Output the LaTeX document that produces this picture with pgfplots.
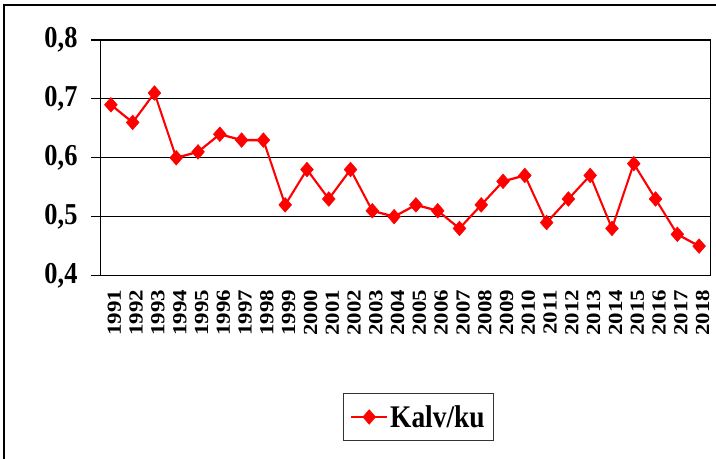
\documentclass[border=0pt]{standalone}
\usepackage{fontspec}
\setmainfont{Liberation Serif}
\usepackage{graphicx}
\usepackage{pgfplots}
\pgfplotsset{compat=1.18}

\begin{document}
\scalebox{1}[1.15]{%
\begin{tikzpicture}[x=1bp,y=1bp]
\useasboundingbox (0,0) rectangle (716,398.3);
\draw[line width=2bp] (3.5,-5) -- (3.5,393.9) -- (720,393.9);
\begin{axis}[
  at={(100bp,158.7bp)}, anchor=south west,
  width=610bp, height=204.8bp, scale only axis,
  xmin=-0.5, xmax=27.5, ymin=0.4, ymax=0.8,
  ytick={0.4,0.5,...,0.8},
  xtick={0,...,27},
  xticklabels={1991,1992,1993,1994,1995,1996,1997,1998,1999,2000,2001,2002,2003,2004,
               2005,2006,2007,2008,2009,2010,2011,2012,2013,2014,2015,2016,2017,2018},
  minor xtick={-0.5,0.5,...,27.5},
  xtick pos=bottom, ytick pos=left,
  tick align=outside,
  major tick length=9bp, minor tick length=8bp,
  xtick style={draw=none},
  minor x tick style={black, line width=1bp},
  ytick style={black, line width=1bp},
  ymajorgrids, grid style={black, line width=1bp},
  axis line style={black, line width=1bp},
  /pgf/number format/.cd, use comma, fixed, fixed zerofill, precision=1, assume math mode=true,
  /pgfplots/.cd,
  yticklabel style={font=\bfseries\fontsize{26.5}{26.5}\selectfont, xshift=-10bp},
  xticklabel style={rotate=90, anchor=east, yshift=-3.5bp, font=\bfseries\fontsize{20}{20}\selectfont},
  legend style={at={(0.522,-0.6006)}, anchor=center, draw=black!80, line width=0.8bp,
    font=\bfseries\fontsize{27.5}{27.5}\selectfont, inner xsep=7bp, inner ysep=8bp},
  legend image code/.code={\draw[mark repeat=2,mark phase=2,#1]
    plot coordinates {(0bp,0bp) (18bp,0bp) (36bp,0bp)};},
]
\addplot[red, line width=2bp, mark=square*, mark size=4.5bp,
  mark options={rotate=45, solid, line width=0.5bp}] coordinates {
(0,0.69) (1,0.66) (2,0.71) (3,0.60) (4,0.61) (5,0.64) (6,0.63) (7,0.63)
(8,0.52) (9,0.58) (10,0.53) (11,0.58) (12,0.51) (13,0.50) (14,0.52) (15,0.51)
(16,0.48) (17,0.52) (18,0.56) (19,0.57) (20,0.49) (21,0.53) (22,0.57) (23,0.48)
(24,0.59) (25,0.53) (26,0.47) (27,0.45)};
\addlegendentry{Kalv/ku}
\end{axis}
\end{tikzpicture}}
\end{document}
